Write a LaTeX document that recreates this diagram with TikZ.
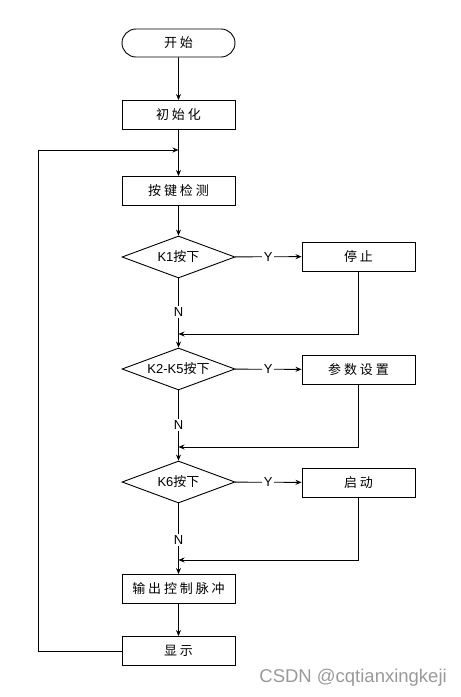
\documentclass[tikz,border=0pt]{standalone}
\usepackage{fontspec}
\setmainfont{Liberation Sans}
\newfontfamily\cjk{Noto Sans CJK SC}
\newfontfamily\cjkbox[LetterSpace=22]{Noto Sans CJK SC}
\usetikzlibrary{shapes.geometric,shapes.misc,arrows.meta}
\begin{document}
\begin{tikzpicture}[x=1pt,y=-1pt, font=\fontsize{13}{15}\selectfont,
 every node/.style={inner sep=0pt},
 box/.style={draw, line width=0.9pt, minimum width=113pt, minimum height=29pt},
 term/.style={draw, rounded rectangle, line width=0.9pt, minimum width=113pt, minimum height=28pt},
 dec/.style={draw, diamond, line width=0.9pt, minimum width=113pt, minimum height=42pt},
 lbl/.style={fill=white, inner sep=1.5pt},
 link/.style={line width=0.9pt},
 arr/.style={link, -{Stealth[length=6pt,width=5pt]}}]
\useasboundingbox (0,0) rectangle (461,697);

\node[term] (start) at (178.5,43) {\cjkbox 开始};
\node[box] (init) at (178.5,115) {\cjkbox 初始化};
\node[box] (detect) at (178.5,191) {\cjkbox 按键检测};
\node[dec,label=center:{K1{\cjk 按下}}] (d1) at (178.5,257) {};
\node[box] (r1) at (358.5,256.5) {\cjkbox 停止};
\node[dec,label=center:{K2-K5{\cjk 按下}}] (d2) at (178.5,369) {};
\node[box] (r2) at (358.5,369.5) {\cjkbox 参数设置};
\node[dec,label=center:{K6{\cjk 按下}}] (d3) at (178.5,482) {};
\node[box] (r3) at (358.5,482.5) {\cjkbox 启动};
\node[box] (out) at (178.5,589) {\cjkbox 输出控制脉冲};
\node[box] (disp) at (178.5,651) {\cjkbox 显示};

\coordinate (m1) at (178.5,334);
\coordinate (m2) at (178.5,447);
\coordinate (m3) at (178.5,560);
\coordinate (l1) at (178.5,150);
\coordinate (lt) at (38,150);

\draw[arr] (start) -- (init);
\draw[arr] (init) -- (detect);
\draw[arr] (detect) -- (d1);
\draw[arr] (d1) -- node[lbl]{Y} (r1);
\draw[arr] (d1) -- node[lbl,pos=0.49]{N} (d2);
\draw[arr] (r1.south) |- (m1);
\draw[arr] (d2) -- node[lbl]{Y} (r2);
\draw[arr] (d2) -- node[lbl,pos=0.49]{N} (d3);
\draw[arr] (r2.south) |- (m2);
\draw[arr] (d3) -- node[lbl]{Y} (r3);
\draw[arr] (d3) -- node[lbl,pos=0.52]{N} (out);
\draw[arr] (r3.south) |- (m3);
\draw[arr] (out) -- (disp);
\draw[arr] (disp.west) -| (lt) -- (l1);

\node[anchor=east, text=black!40, font=\fontsize{18.5}{20}\selectfont] (wm) at (447,678) {CSDN @cqtianxingkeji};
\end{tikzpicture}
\end{document}
